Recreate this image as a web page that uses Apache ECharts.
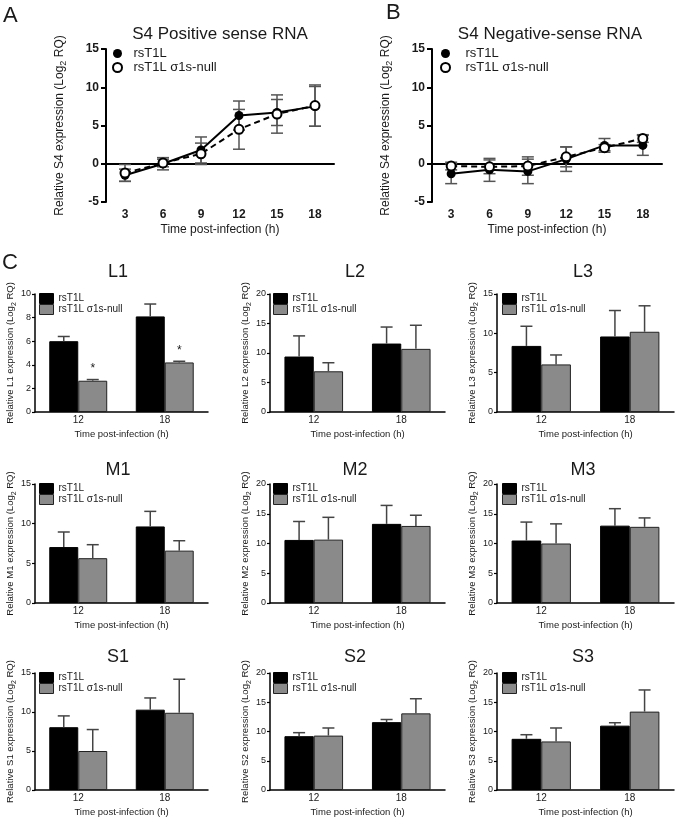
<!DOCTYPE html>
<html><head><meta charset="utf-8">
<script src="https://cdn.jsdelivr.net/npm/echarts@6/dist/echarts.min.js"></script>
<style>html,body{margin:0;padding:0;background:#fff}#c{width:675px;height:820px}</style>
</head><body><div id="c"></div><script>
// ---------- data ----------
const timeCats = ['3', '6', '9', '12', '15', '18'];
const posWT = [-1.5, 0.0, 1.8, 6.3, 6.7, 7.5];
const posWTErr = [0.8, 0.8, 1.7, 1.9, 1.7, 2.6];
const posNull = [-1.2, 0.1, 1.3, 4.5, 6.5, 7.6];
const posNullErr = [1.1, 0.5, 1.4, 2.6, 2.5, 2.7];
const negWT = [-1.3, -0.8, -1.0, 0.6, 2.4, 2.4];
const negWTErr = [1.3, 1.5, 1.6, 1.6, 0.9, 1.3];
const negNull = [-0.3, -0.4, -0.3, 0.9, 2.1, 3.3];
const negNullErr = [0.5, 0.9, 1.2, 1.3, 0.4, 0.5];

const barCats = ['12', '18'];
const genes = ['L1', 'L2', 'L3', 'M1', 'M2', 'M3', 'S1', 'S2', 'S3'];
const L1_wt = [6.0, 8.1],   L1_wtErr = [0.4, 1.05], L1_null = [2.65, 4.2],  L1_nullErr = [0.1, 0.1];
const L2_wt = [9.4, 11.6],  L2_wtErr = [3.5, 2.8],  L2_null = [6.9, 10.7],  L2_nullErr = [1.45, 4.0];
const L3_wt = [8.4, 9.6],   L3_wtErr = [2.5, 3.3],  L3_null = [6.05, 10.2], L3_nullErr = [1.2, 3.3];
const M1_wt = [7.05, 9.65], M1_wtErr = [1.9, 1.9],  M1_null = [5.65, 6.6],  M1_nullErr = [1.7, 1.25];
const M2_wt = [10.6, 13.3], M2_wtErr = [3.1, 3.1],  M2_null = [10.65, 12.95], M2_nullErr = [3.75, 1.8];
const M3_wt = [10.5, 13.0], M3_wtErr = [3.1, 2.85], M3_null = [10.0, 12.8], M3_nullErr = [3.3, 1.5];
const S1_wt = [8.05, 10.3], S1_wtErr = [1.45, 1.5], S1_null = [5.0, 9.9],  S1_nullErr = [2.75, 4.3];
const S2_wt = [9.2, 11.6],  S2_wtErr = [0.6, 0.45], S2_null = [9.3, 13.1], S2_nullErr = [1.3, 2.5];
const S3_wt = [8.75, 11.0], S3_wtErr = [0.7, 0.5],  S3_null = [8.3, 13.4], S3_nullErr = [2.3, 3.7];
const L1_sig = ['*', '*'];
const yMaxes = [10, 20, 15, 15, 20, 20, 15, 20, 20];
const yIntervals = [2, 5, 5, 5, 5, 5, 5, 5, 5];

const wtMeans = [L1_wt, L2_wt, L3_wt, M1_wt, M2_wt, M3_wt, S1_wt, S2_wt, S3_wt];
const wtErrs = [L1_wtErr, L2_wtErr, L3_wtErr, M1_wtErr, M2_wtErr, M3_wtErr, S1_wtErr, S2_wtErr, S3_wtErr];
const nullMeans = [L1_null, L2_null, L3_null, M1_null, M2_null, M3_null, S1_null, S2_null, S3_null];
const nullErrs = [L1_nullErr, L2_nullErr, L3_nullErr, M1_nullErr, M2_nullErr, M3_nullErr, S1_nullErr, S2_nullErr, S3_nullErr];
const sigs = [L1_sig, [], [], [], [], [], [], [], []];

// ---------- build ----------
const FONT = 'Liberation Sans, Arial, Helvetica, sans-serif';
const T = '#1a1a1a';
const WT = 'rsT1L', NU = 'rsT1L σ1s-null';
const grids = [], xAxes = [], yAxes = [], series = [], titles = [], legends = [];

function yName(label) { return '{n|Relative ' + label + ' expression (Log}{s|2}{n| RQ)}'; }
function rich(fs) {
  return {
    n: {fontSize: fs, fontFamily: FONT, color: T, lineHeight: fs + 4, verticalAlign: 'middle'},
    s: {fontSize: Math.round(fs * 0.72), fontFamily: FONT, color: T, lineHeight: fs + 4, verticalAlign: 'bottom'}
  };
}
function errLine(params, api) {
  const i = api.value(0), m = api.value(1), e = api.value(2);
  const top = api.coord([i, m + e]), bot = api.coord([i, m - e]);
  const w = 6, st = {stroke: '#555', lineWidth: 1.5};
  return {type: 'group', children: [
    {type: 'line', shape: {x1: top[0], y1: top[1], x2: bot[0], y2: bot[1]}, style: st},
    {type: 'line', shape: {x1: top[0] - w, y1: top[1], x2: top[0] + w, y2: top[1]}, style: st},
    {type: 'line', shape: {x1: bot[0] - w, y1: bot[1], x2: bot[0] + w, y2: bot[1]}, style: st}
  ]};
}
function errBar(sign) {
  return function (params, api) {
    const i = api.value(0), m = api.value(1), e = api.value(2);
    const band = api.size([1, 0])[0];
    const dx = sign * band * 0.1675;
    const b = api.coord([i, m]), t = api.coord([i, m + e]);
    const x = b[0] + dx, w = 6, st = {stroke: '#444', lineWidth: 1.5};
    return {type: 'group', children: [
      {type: 'line', shape: {x1: x, y1: b[1], x2: x, y2: t[1]}, style: st},
      {type: 'line', shape: {x1: x - w, y1: t[1], x2: x + w, y2: t[1]}, style: st}
    ]};
  };
}

function linePanel(gi, left, width, wt, wtErr, nu, nuErr, title, titleX, letter, letterX, letterY, legLeft, textPad) {
  grids.push({left: left, top: 49, width: width, height: 153});
  xAxes.push({gridIndex: gi, type: 'category', data: timeCats, boundaryGap: true,
    axisLine: {lineStyle: {color: '#000', width: 2}},
    axisTick: {alignWithLabel: true, length: 5, lineStyle: {color: '#000', width: 2}},
    axisLabel: {fontWeight: 'bold', fontSize: 12, color: T, margin: 7, fontFamily: FONT},
    name: 'Time post-infection (h)', nameLocation: 'middle', nameGap: 22,
    nameTextStyle: {fontSize: 12, color: T, fontFamily: FONT}});
  yAxes.push({gridIndex: gi, type: 'value', min: -5, max: 15, interval: 5,
    axisLine: {show: true, lineStyle: {color: '#000', width: 2}},
    axisTick: {show: true, length: 5, lineStyle: {color: '#000', width: 2}},
    splitLine: {show: false},
    axisLabel: {fontWeight: 'bold', fontSize: 12, color: T, margin: 7, fontFamily: FONT},
    name: yName('S4'), nameLocation: 'middle', nameRotate: 90, nameGap: 38,
    nameTextStyle: {rich: rich(12)}});
  series.push({type: 'line', name: WT, xAxisIndex: gi, yAxisIndex: gi, data: wt,
    symbol: 'circle', symbolSize: 9, itemStyle: {color: '#000'},
    lineStyle: {color: '#000', width: 2}, z: 4,
    markLine: {silent: true, symbol: ['none', 'none'], label: {show: false},
      lineStyle: {type: [2, 3], color: '#000', width: 1.5}, data: [{yAxis: 0}], z: 1}});
  series.push({type: 'line', name: NU, xAxisIndex: gi, yAxisIndex: gi, data: nu,
    symbol: 'circle', symbolSize: 9, itemStyle: {color: '#fff', borderColor: '#000', borderWidth: 2},
    lineStyle: {color: '#000', width: 2, type: [6, 4]}, z: 5});
  [[wt, wtErr], [nu, nuErr]].forEach(function (p) {
    series.push({type: 'custom', xAxisIndex: gi, yAxisIndex: gi, z: 3,
      data: p[0].map(function (m, k) { return [k, m, p[1][k]]; }),
      encode: {x: 0, y: 1}, renderItem: errLine});
  });
  titles.push({text: title, left: titleX, top: 26, textAlign: 'center', padding: 0,
    textStyle: {fontSize: 17, fontWeight: 'normal', color: T, fontFamily: FONT}});
  titles.push({text: letter, left: letterX, top: letterY, padding: 0,
    textStyle: {fontSize: 22, fontWeight: 'normal', color: T, fontFamily: FONT}});
  legends.push({orient: 'vertical', left: legLeft, top: 47, itemWidth: 10, itemHeight: 9, itemGap: 1,
    selectedMode: false, padding: 0,
    textStyle: {fontSize: 13, color: T, fontFamily: FONT, lineHeight: 10, padding: [0, 0, 0, textPad]},
    data: [{name: WT, icon: 'circle', itemStyle: {color: '#000', borderWidth: 0}},
           {name: NU, icon: 'circle', itemStyle: {color: '#fff', borderColor: '#000', borderWidth: 2}}]});
}

linePanel(0, 106, 228, posWT, posWTErr, posNull, posNullErr, 'S4 Positive sense RNA', 220, 'A', 3, 5, 112, 6);
linePanel(1, 432, 230, negWT, negWTErr, negNull, negNullErr, 'S4 Negative-sense RNA', 550, 'B', 386, 2, 440, 10);

const colLeft = [35, 270, 497], colWidth = [173, 175, 177], colCenter = [118, 355, 583];
const legLeft = [39, 273, 502];
const rowTop = [294, 484, 673], rowH = [118, 119, 117], rowTitleTop = [263, 461, 648];

genes.forEach(function (g, i) {
  const gi = 2 + i, r = Math.floor(i / 3), c = i % 3;
  grids.push({left: colLeft[c], top: rowTop[r], width: colWidth[c], height: rowH[r]});
  xAxes.push({gridIndex: gi, type: 'category', data: barCats,
    axisLine: {lineStyle: {color: '#000', width: 1.5}}, axisTick: {show: false},
    axisLabel: {fontSize: 10, color: T, margin: 3, fontFamily: FONT},
    name: 'Time post-infection (h)', nameLocation: 'middle', nameGap: 17,
    nameTextStyle: {fontSize: 9.5, color: T, fontFamily: FONT}});
  yAxes.push({gridIndex: gi, type: 'value', min: 0, max: yMaxes[i], interval: yIntervals[i],
    axisLine: {show: true, lineStyle: {color: '#000', width: 1.5}},
    axisTick: {show: true, length: 3, lineStyle: {color: '#000', width: 1.2}},
    splitLine: {show: false},
    axisLabel: {fontSize: 9, color: T, margin: 4, fontFamily: FONT},
    name: yName(g), nameLocation: 'middle', nameRotate: 90, nameGap: 15,
    nameTextStyle: {rich: rich(9.5)}});
  series.push({type: 'bar', name: WT, xAxisIndex: gi, yAxisIndex: gi, data: wtMeans[i],
    barGap: '0%', barCategoryGap: '33%',
    itemStyle: {color: '#000', borderColor: '#000', borderWidth: 1}});
  series.push({type: 'bar', name: NU, xAxisIndex: gi, yAxisIndex: gi,
    data: nullMeans[i].map(function (v, k) {
      const s = sigs[i][k];
      return s ? {value: v, label: {show: true, position: 'top', distance: 6, formatter: s,
        fontSize: 12, color: T, fontFamily: FONT}} : v;
    }),
    barGap: '0%', barCategoryGap: '33%',
    itemStyle: {color: '#8a8a8a', borderColor: '#222', borderWidth: 1}});
  series.push({type: 'custom', xAxisIndex: gi, yAxisIndex: gi, z: 3,
    data: wtMeans[i].map(function (m, k) { return [k, m, wtErrs[i][k]]; }),
    encode: {x: 0, y: 1}, renderItem: errBar(-1)});
  series.push({type: 'custom', xAxisIndex: gi, yAxisIndex: gi, z: 3,
    data: nullMeans[i].map(function (m, k) { return [k, m, nullErrs[i][k]]; }),
    encode: {x: 0, y: 1}, renderItem: errBar(1)});
  titles.push({text: g, left: colCenter[c], top: rowTitleTop[r], textAlign: 'center', padding: 0,
    textStyle: {fontSize: 18, fontWeight: 'normal', color: T, fontFamily: FONT}});
  legends.push({orient: 'vertical', left: legLeft[c], top: rowTop[r] - 1, itemWidth: 14, itemHeight: 10,
    itemGap: 0, selectedMode: false, padding: 0,
    textStyle: {fontSize: 10, color: T, fontFamily: FONT, lineHeight: 10},
    data: [{name: WT, icon: 'rect', itemStyle: {color: '#000', borderColor: '#000', borderWidth: 1}},
           {name: NU, icon: 'rect', itemStyle: {color: '#8a8a8a', borderColor: '#222', borderWidth: 1}}]});
});
titles.push({text: 'C', left: 2, top: 252, padding: 0,
  textStyle: {fontSize: 22, fontWeight: 'normal', color: T, fontFamily: FONT}});

const chart = echarts.init(document.getElementById('c'));
chart.setOption({
  animation: false, backgroundColor: '#fff',
  textStyle: {fontFamily: FONT},
  title: titles, legend: legends, grid: grids, xAxis: xAxes, yAxis: yAxes, series: series
});
</script></body></html>
